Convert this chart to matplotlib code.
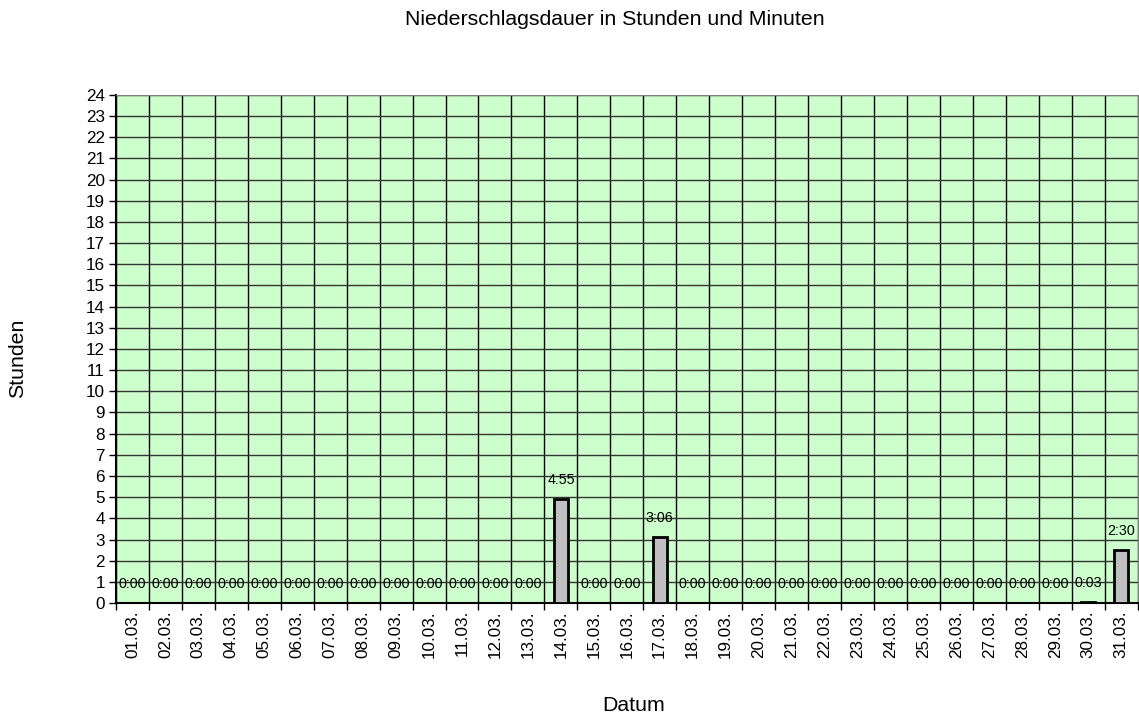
import numpy as np
import matplotlib.pyplot as plt

plt.rcParams['font.family'] = ['Liberation Sans', 'DejaVu Sans']

# days of March and precipitation duration (hours, minutes)
tage = ['%02d.03.' % d for d in range(1, 32)]
stunden = [0] * 31
minuten = [0] * 31
stunden[13], minuten[13] = 4, 55   # 14.03.
stunden[16], minuten[16] = 3, 6    # 17.03.
stunden[29], minuten[29] = 0, 3    # 30.03.
stunden[30], minuten[30] = 2, 30   # 31.03.

werte = [h + m / 60 for h, m in zip(stunden, minuten)]
beschriftung = ['%d:%02d' % (h, m) for h, m in zip(stunden, minuten)]

fig = plt.figure(figsize=(11.39, 7.18), dpi=100)
ax = fig.add_axes([0.1018, 0.160, 0.897, 0.708])
ax.set_facecolor('#CCFFCC')

x = np.arange(len(tage))
ax.bar(x, werte, width=0.42, color='#C0C0C0', edgecolor='black', linewidth=2, zorder=3)

for xi, v, txt in zip(x, werte, beschriftung):
    ax.annotate(txt, (xi, v), xytext=(0, 14), textcoords='offset points',
                ha='center', va='center', fontsize=10.3, zorder=4)

ax.set_xlim(-0.5, len(tage) - 0.5)
ax.set_ylim(0, 24)
ax.set_yticks(range(0, 25))
ax.tick_params(axis='y', labelsize=12.3, direction='out', length=5, width=1, pad=3)

ax.set_xticks(x)
ax.set_xticklabels(tage, rotation=90, fontsize=12.3)
ax.set_xticks(np.arange(-0.5, len(tage)), minor=True)
ax.tick_params(axis='x', which='major', length=0, pad=5)
ax.tick_params(axis='x', which='minor', length=5, width=1, direction='out')

ax.grid(axis='y', color='#333333', linewidth=1, zorder=1)
ax.grid(axis='x', which='minor', color='black', linewidth=1, zorder=1)
ax.grid(axis='x', which='major', visible=False)
ax.set_axisbelow(True)

ax.spines['top'].set_color('#808080')
ax.spines['right'].set_color('#808080')
ax.spines['left'].set_linewidth(1.5)
ax.spines['bottom'].set_linewidth(1.5)

fig.text(0.540, 0.973, 'Niederschlagsdauer in Stunden und Minuten', ha='center', va='center', fontsize=15.3)
fig.text(0.556, 0.017, 'Datum', ha='center', va='center', fontsize=15.3)
fig.text(0.015, 0.501, 'Stunden', ha='center', va='center', rotation=90, fontsize=15.3)

fig.savefig('out.png', dpi=100)
